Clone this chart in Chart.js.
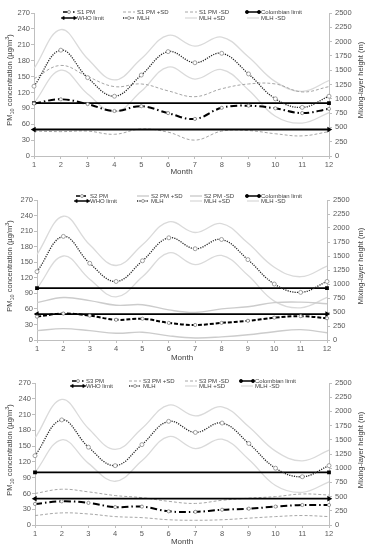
<!DOCTYPE html>
<html>
<head>
<meta charset="utf-8">
<script src="https://cdn.jsdelivr.net/npm/chart.js@4"></script>
<style>
  body { margin: 0; background: #fff; }
  canvas { display: block; }
</style>
</head>
<body>
<canvas id="chart1" width="366" height="181"></canvas>
<canvas id="chart2" width="366" height="181"></canvas>
<canvas id="chart3" width="366" height="188"></canvas>
<script>
// month numbers on the x axis
const months = ["1", "2", "3", "4", "5", "6", "7", "8", "9", "10", "11", "12"];

// mixing-layer height (m), right axis
const mlh = [1220, 1850, 1370, 1045, 1415, 1825, 1630, 1795, 1435, 1000, 850, 1045];
const mlhPlusSd = [1530, 2210, 1700, 1330, 1700, 2110, 1920, 2080, 1730, 1300, 1130, 1320];
const mlhMinusSd = [925, 1500, 1085, 770, 1130, 1555, 1345, 1510, 1155, 695, 575, 760];

// limits (ug/m3)
const colombianLimit = [100, 100, 100, 100, 100, 100, 100, 100, 100, 100, 100, 100];
const whoLimit = [50, 50, 50, 50, 50, 50, 50, 50, 50, 50, 50, 50];

// station PM10 (ug/m3), left axis
const s1Pm = [99, 107, 98, 85, 94, 81, 70, 91, 95, 90, 81, 89];
const s1PmPlusSd = [146, 171, 150, 131, 136, 123, 112, 127, 136, 136, 121, 131];
const s1PmMinusSd = [47, 46, 47, 41, 51, 45, 30, 47, 48, 42, 38, 46];

const s2Pm = [45, 51, 47, 39, 41, 33, 29, 33, 37, 43, 46, 42];
const s2PmPlusSd = [72, 82, 76, 67, 68, 58, 53, 60, 64, 72, 73, 70];
const s2PmMinusSd = [18, 22, 18, 13, 15, 8, 4, 6, 10, 16, 20, 14];

const s3Pm = [40, 45, 42, 34, 35, 26, 25, 29, 31, 35, 38, 38];
const s3PmPlusSd = [60, 68, 63, 56, 52, 45, 41, 47, 51, 54, 59, 57];
const s3PmMinusSd = [18, 23, 21, 16, 14, 10, 9, 10, 13, 16, 18, 16];

const FONT = "'Liberation Sans', Arial, sans-serif";
const TEXT = "#595959";
const AXIS = "#bfbfbf";

// per panel geometry (pixels inside each canvas)
const panels = [
  {
    id: "chart1", name: "S1", pm: s1Pm, plus: s1PmPlusSd, minus: s1PmMinusSd,
    pmDash: [7, 3, 1.5, 3], sdColor: "#a6a6a6", sdDash: [3, 2], sdWidth: 1,
    area: { top: 13, bottom: 156, left: 34, right: 329 }, height: 181, monthY: 172,
    legendY: [12, 18], legendX: [77, 137, 199, 261], titleY: 80
  },
  {
    id: "chart2", name: "S2", pm: s2Pm, plus: s2PmPlusSd, minus: s2PmMinusSd,
    pmDash: [4, 2], sdColor: "#cccccc", sdDash: [], sdWidth: 1.4,
    area: { top: 19, bottom: 159, left: 37, right: 327 }, height: 181, monthY: 177,
    legendY: [15, 20], legendX: [90, 151, 204, 261], titleY: 85
  },
  {
    id: "chart3", name: "S3", pm: s3Pm, plus: s3PmPlusSd, minus: s3PmMinusSd,
    pmDash: [7, 3, 1.5, 3], sdColor: "#a6a6a6", sdDash: [3, 2], sdWidth: 1,
    area: { top: 21, bottom: 163, left: 35, right: 329 }, height: 188, monthY: 180,
    legendY: [19, 24], legendX: [86, 143, 199, 255], titleY: 88
  }
];

function endsOnly(r) {
  return (c) => (c.dataIndex === 0 || c.dataIndex === months.length - 1 ? r : 0);
}

function drawMarker(ctx, style, x, y, r, rot, fill, stroke) {
  ctx.save();
  ctx.translate(x, y);
  ctx.rotate((rot || 0) * Math.PI / 180);
  ctx.fillStyle = fill;
  ctx.strokeStyle = stroke;
  ctx.lineWidth = 0.8;
  ctx.setLineDash([]);
  ctx.beginPath();
  if (style === "triangle") {
    ctx.moveTo(0, -r * 1.3);
    ctx.lineTo(r * 1.1, r * 0.8);
    ctx.lineTo(-r * 1.1, r * 0.8);
    ctx.closePath();
  } else {
    ctx.arc(0, 0, r, 0, Math.PI * 2);
  }
  ctx.fill();
  ctx.stroke();
  ctx.restore();
}

// titles with sub/superscripts and the grid legend, drawn on the canvas
const excelDecor = {
  id: "excelDecor",
  afterDraw(chart, args, opts) {
    const ctx = chart.ctx;
    const p = opts.panel;
    ctx.save();

    // left axis title
    const parts = [
      ["PM", 7.5, 0], ["10", 5.5, 2], [" concentration (\u00b5g/m", 7.5, 0], ["3", 5.5, -3], [")", 7.5, 0]
    ];
    let total = 0;
    parts.forEach((pt) => { ctx.font = pt[1] + "px " + FONT; total += ctx.measureText(pt[0]).width; });
    ctx.translate(10, p.titleY);
    ctx.rotate(-Math.PI / 2);
    ctx.fillStyle = "#404040";
    ctx.textBaseline = "middle";
    let tx = -total / 2;
    parts.forEach((pt) => {
      ctx.font = pt[1] + "px " + FONT;
      ctx.fillText(pt[0], tx, pt[2]);
      tx += ctx.measureText(pt[0]).width;
    });
    ctx.restore();

    // right axis title
    ctx.save();
    ctx.translate(361, p.titleY);
    ctx.rotate(-Math.PI / 2);
    ctx.font = "7.5px " + FONT;
    ctx.fillStyle = "#404040";
    ctx.textAlign = "center";
    ctx.textBaseline = "middle";
    ctx.fillText("Mixing-layer height (m)", 0, 0);
    ctx.restore();

    // legend, 4 columns x 2 rows
    chart.data.datasets.forEach((ds, i) => {
      const col = i % 4, row = Math.floor(i / 4);
      const tx = p.legendX[col], y = p.legendY[row];
      const x0 = tx - 14, x1 = tx - 2;
      ctx.save();
      ctx.strokeStyle = ds.borderColor;
      ctx.lineWidth = Math.min(ds.borderWidth, 1.5);
      ctx.setLineDash(ds.borderDash || []);
      ctx.beginPath();
      ctx.moveTo(x0, y);
      ctx.lineTo(x1, y);
      ctx.stroke();
      ctx.restore();
      if (ds.legendMarker === "mid") {
        drawMarker(ctx, "circle", (x0 + x1) / 2, y, 1.5, 0, "#fff", ds.markerColor);
      } else if (ds.legendMarker === "dots") {
        drawMarker(ctx, "circle", x0, y, 1.6, 0, "#000", "#000");
        drawMarker(ctx, "circle", x1, y, 1.6, 0, "#000", "#000");
      } else if (ds.legendMarker === "arrows") {
        drawMarker(ctx, "triangle", x0, y, 1.4, 270, "#000", "#000");
        drawMarker(ctx, "triangle", x1, y, 1.4, 90, "#000", "#000");
      }
      ctx.save();
      ctx.font = "6px " + FONT;
      ctx.fillStyle = "#404040";
      ctx.textBaseline = "middle";
      ctx.fillText(ds.label, tx, y);
      ctx.restore();
    });
  }
};

panels.forEach((p) => {
  const datasets = [
    {
      label: p.name + " PM", data: p.pm, yAxisID: "y",
      borderColor: "#000", borderWidth: 2, borderDash: p.pmDash, tension: 0.4,
      pointRadius: 1.6, pointBackgroundColor: "#fff", pointBorderColor: "#7f7f7f", pointBorderWidth: 0.8,
      legendMarker: "mid", markerColor: "#7f7f7f", order: 1
    },
    {
      label: p.name + " PM +SD", data: p.plus, yAxisID: "y",
      borderColor: p.sdColor, borderWidth: p.sdWidth, borderDash: p.sdDash, tension: 0.4,
      pointRadius: 0, order: 6
    },
    {
      label: p.name + " PM -SD", data: p.minus, yAxisID: "y",
      borderColor: p.sdColor, borderWidth: p.sdWidth, borderDash: p.sdDash, tension: 0.4,
      pointRadius: 0, order: 7
    },
    {
      label: "Colombian limit", data: colombianLimit, yAxisID: "y",
      borderColor: "#000", borderWidth: 1.8, tension: 0,
      pointStyle: "rect", pointRadius: endsOnly(1.4), pointBackgroundColor: "#000", pointBorderColor: "#000",
      legendMarker: "dots", order: 3
    },
    {
      label: "WHO limit", data: whoLimit, yAxisID: "y",
      borderColor: "#000", borderWidth: 1.8, tension: 0,
      pointStyle: "triangle", pointRadius: endsOnly(1.5),
      pointRotation: (c) => (c.dataIndex === 0 ? 270 : 90),
      pointBackgroundColor: "#000", pointBorderColor: "#000",
      legendMarker: "arrows", order: 4
    },
    {
      label: "MLH", data: mlh, yAxisID: "y1",
      borderColor: "#262626", borderWidth: 1.3, borderDash: [1.2, 1.2], tension: 0.4,
      pointRadius: 2, pointBackgroundColor: "#fff", pointBorderColor: "#8c8c8c", pointBorderWidth: 0.8,
      legendMarker: "mid", markerColor: "#8c8c8c", order: 2
    },
    {
      label: "MLH +SD", data: mlhPlusSd, yAxisID: "y1",
      borderColor: "#dadada", borderWidth: 1.3, tension: 0.4, pointRadius: 0, order: 8
    },
    {
      label: "MLH -SD", data: mlhMinusSd, yAxisID: "y1",
      borderColor: "#dadada", borderWidth: 1.3, tension: 0.4, pointRadius: 0, order: 9
    }
  ];

  const tickFont = { family: FONT, size: 7.5 };
  const gridOpts = { display: true, drawOnChartArea: false, drawTicks: true, tickLength: 3, color: AXIS };

  new Chart(document.getElementById(p.id).getContext("2d"), {
    type: "line",
    data: { labels: months, datasets: datasets },
    options: {
      responsive: false,
      animation: false,
      layout: { padding: { top: p.area.top, left: 0, right: 0, bottom: 0 } },
      scales: {
        x: {
          offset: false,
          grid: gridOpts,
          border: { color: AXIS },
          ticks: { font: tickFont, color: TEXT, padding: 1, maxRotation: 0, autoSkip: false },
          title: {
            display: true, text: "Month", color: "#404040", font: { family: FONT, size: 8 },
            padding: { top: 0, bottom: p.height - p.monthY - 4.8 }
          },
          afterFit: (s) => { s.height = p.height - p.area.bottom; }
        },
        y: {
          position: "left", min: 0, max: 270,
          grid: gridOpts,
          border: { color: AXIS },
          ticks: { stepSize: 30, font: tickFont, color: TEXT, padding: 1 },
          afterFit: (s) => { s.width = p.area.left; }
        },
        y1: {
          position: "right", min: 0, max: 2500,
          grid: gridOpts,
          border: { color: AXIS },
          ticks: { stepSize: 250, font: tickFont, color: TEXT, padding: 3, callback: (v) => String(v) },
          afterFit: (s) => { s.width = 366 - p.area.right; }
        }
      },
      plugins: {
        legend: { display: false },
        tooltip: { enabled: false },
        excelDecor: { panel: p }
      }
    },
    plugins: [excelDecor]
  });
});
</script>
</body>
</html>
